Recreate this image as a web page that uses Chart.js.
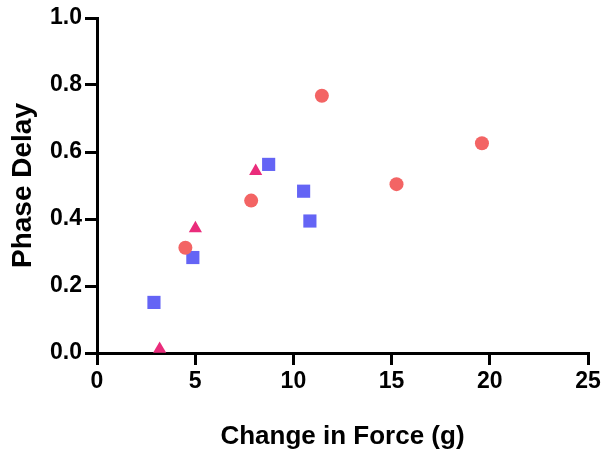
<!DOCTYPE html>
<html>
<head>
<meta charset="utf-8">
<script src="https://cdn.jsdelivr.net/npm/chart.js@4/dist/chart.umd.min.js"></script>
<style>
	body { margin:0; background:#fff; }
	#wrap { width:613px; height:454px; }
</style>
</head>
<body>
<div id="wrap"><canvas id="c" width="613" height="454"></canvas></div>
<script>
// values
const circleX = [4.5, 7.85, 11.45, 15.25, 19.6]
const circleY = [0.314, 0.455, 0.768, 0.504, 0.626]
const squareX = [2.9, 4.88, 8.74, 10.52, 10.84]
const squareY = [0.151, 0.285, 0.563, 0.483, 0.394]
const triX = [3.19, 5.01, 8.08]
const triY = [0.012, 0.372, 0.543]

const xTicks = [0, 5, 10, 15, 20, 25]
const yTicks = [0, 0.2, 0.4, 0.6, 0.8, 1.0]

const pts = (xs, ys) => xs.map((x, i) => ({x:x, y:ys[i]}))

const font = 'Liberation Sans, Arial, Helvetica, sans-serif'

const axis = (min, max, ticks, fmt, title, tsize, tpad) => ({
	type: 'linear',
	min: min,
	max: max,
	afterBuildTicks: a => { a.ticks = ticks.map(v => ({value:v})) },
	border: { display:true, width:3, color:'#000' },
	grid: {
		drawOnChartArea: false,
		drawTicks: true,
		tickLength: 12,
		tickWidth: 3,
		tickColor: '#000',
		lineWidth: 3,
		color: '#000',
	},
	ticks: {
		color: '#000',
		padding: 3,
		font: { family:font, size:23, weight:'bold' },
		callback: fmt,
	},
	title: {
		display: true,
		text: title,
		color: '#000',
		font: { family:font, size:tsize, weight:'bold', lineHeight:1.2 },
		padding: tpad,
	},
})

const xAxis = axis(0, 25, xTicks, v => String(v), 'Change in Force (g)', 26, { top:4, bottom:2 })
xAxis.afterFit = a => { a.height = 454 - 353 }

const yAxis = axis(0, 1, yTicks, v => v.toFixed(1), 'Phase Delay', 28, { top:4, bottom:4 })
yAxis.afterFit = a => { a.width = 97 - 2 }

new Chart(document.getElementById('c'), {
	type: 'scatter',
	data: {
		datasets: [{
			data: pts(circleX, circleY),
			pointStyle: 'circle',
			pointRadius: 7,
			backgroundColor: '#f36464',
			borderWidth: 0,
			order: 0,
		},{
			data: pts(squareX, squareY),
			pointStyle: 'rect',
			pointRadius: 9.3,
			backgroundColor: '#6464f5',
			borderWidth: 0,
			order: 1,
		},{
			data: pts(triX, triY),
			pointStyle: 'triangle',
			pointRadius: 7.6,
			backgroundColor: '#ea2c7b',
			borderWidth: 0,
			order: 2,
		}]
	},
	options: {
		responsive: false,
		animation: false,
		layout: { padding: { left:2, right:25, top:18, bottom:0 } },
		plugins: {
			legend: { display:false },
			tooltip: { enabled:false },
		},
		scales: { x: xAxis, y: yAxis },
	}
})
</script>
</body>
</html>
